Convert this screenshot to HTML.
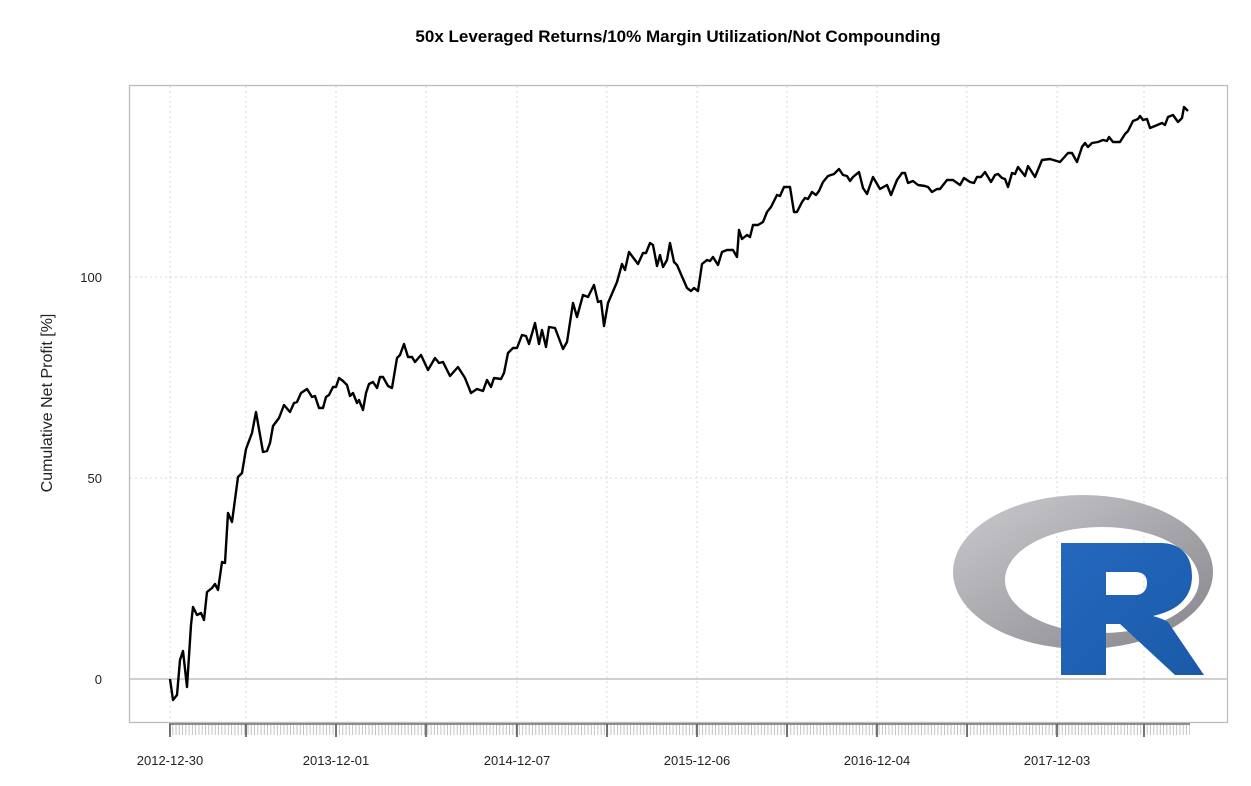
<!DOCTYPE html>
<html><head><meta charset="utf-8"><style>
html,body{margin:0;padding:0;background:#fff}
svg{display:block;font-family:"Liberation Sans",sans-serif}
</style></head><body>
<svg width="1251" height="786" viewBox="0 0 1251 786" xmlns="http://www.w3.org/2000/svg">
<defs>
<pattern id="mt" x="169" y="0" width="3.27" height="786" patternUnits="userSpaceOnUse">
<line x1="0.5" y1="0" x2="0.5" y2="786" stroke="#aaa" stroke-width="0.7"/>
</pattern>
<linearGradient id="rg" x1="0" y1="0" x2="1" y2="1">
<stop offset="0" stop-color="#cbcbcf"/><stop offset="1" stop-color="#84848a"/>
</linearGradient>
<linearGradient id="bg" x1="0" y1="0" x2="1" y2="1">
<stop offset="0" stop-color="#2468be"/><stop offset="1" stop-color="#1a5aa8"/>
</linearGradient>
</defs>
<text x="678" y="42" text-anchor="middle" font-size="17" font-weight="bold" fill="#000">50x Leveraged Returns/10% Margin Utilization/Not Compounding</text>
<g stroke="#d8d8d8" stroke-width="1" stroke-dasharray="2,3">
<line x1="170" y1="86" x2="170" y2="721"/><line x1="246" y1="86" x2="246" y2="721"/>
<line x1="336" y1="86" x2="336" y2="721"/><line x1="426" y1="86" x2="426" y2="721"/>
<line x1="517" y1="86" x2="517" y2="721"/><line x1="607" y1="86" x2="607" y2="721"/>
<line x1="697" y1="86" x2="697" y2="721"/><line x1="787" y1="86" x2="787" y2="721"/>
<line x1="877" y1="86" x2="877" y2="721"/><line x1="967" y1="86" x2="967" y2="721"/>
<line x1="1057" y1="86" x2="1057" y2="721"/><line x1="1144" y1="86" x2="1144" y2="721"/>
<line x1="130" y1="478" x2="1227" y2="478"/><line x1="130" y1="277" x2="1227" y2="277"/>
</g>
<line x1="130" y1="679" x2="1227" y2="679" stroke="#b5b5b5" stroke-width="1.3"/>
<rect x="129.5" y="85.5" width="1098" height="637" fill="none" stroke="#bdbdbd" stroke-width="1.3"/>
<path fill="url(#rg)" fill-rule="evenodd" d="M953,572 a130,77 0 1,0 260,0 a130,77 0 1,0 -260,0 Z M1005,580 a97,53 0 1,0 194,0 a97,53 0 1,0 -194,0 Z"/>
<path fill="url(#bg)" fill-rule="evenodd" d="M1061,543 L1160,543 C1185,543 1192,560 1192,576 C1192,596 1180,610 1153,616 C1160,618 1165,620 1168,622 L1204,675 L1175,675 L1120,624 L1106,624 L1106,675 L1061,675 Z M1106,572 L1135,572 C1145,572 1147,578 1147,583 C1147,590 1143,595 1135,595 L1106,595 Z"/>
<polyline fill="none" stroke="#000" stroke-width="2.4" stroke-linejoin="round" points="170,679 173,700 177,695 180,660 183,651 187,687 191,625 193,607 197,615 201,613 204,620 207,592 212,588 215,584 218,590 222,562 225,563 228,513 232,522 238,477 242,473 246,449 252,433 256,412 263,452 267,451 270,443 273,426 279,418 284,405 290,412 294,403 297,402 301,393 307,389 312,397 315,396 319,408 323,408 326,397 329,395 333,387 336,387 339,378 343,381 347,385 350,396 353,393 357,403 359,400 363,410 366,393 369,384 373,382 377,388 380,377 383,377 388,386 392,388 397,358 400,355 404,344 408,357 412,357 415,362 421,355 428,370 435,358 439,363 443,362 450,376 458,367 465,378 471,393 477,389 483,391 487,380 491,387 494,378 501,379 504,373 508,353 513,348 517,348 522,335 526,336 529,344 535,323 539,344 542,330 546,347 549,327 555,328 563,349 567,342 573,303 577,317 583,295 588,297 594,285 598,302 601,301 604,326 608,303 617,282 622,264 625,270 629,252 638,264 643,253 646,253 650,243 653,245 657,266 660,255 663,267 667,260 670,243 674,262 677,265 687,288 691,291 694,288 698,291 702,264 707,260 710,261 713,257 718,265 722,252 727,250 733,250 737,257 739,230 742,239 747,235 750,237 753,225 758,225 763,222 767,212 771,207 777,195 780,196 784,187 790,187 794,212 797,212 802,202 805,198 808,199 812,192 816,195 819,191 823,182 828,176 834,174 839,169 843,175 847,176 850,181 853,177 859,172 863,188 867,194 873,177 880,189 887,185 891,195 897,180 902,173 905,173 908,183 913,181 918,185 925,186 928,187 932,192 937,189 940,189 947,180 953,180 960,185 964,178 970,182 974,183 977,177 981,177 985,172 991,182 995,175 998,174 1002,178 1005,179 1008,187 1012,173 1015,174 1018,167 1025,176 1028,166 1035,177 1042,160 1050,159 1060,162 1068,153 1072,153 1077,162 1082,147 1085,143 1088,147 1092,143 1098,142 1103,140 1107,141 1109,137 1113,142 1120,142 1125,134 1128,131 1133,121 1138,119 1140,116 1143,120 1147,119 1150,128 1155,126 1162,123 1165,125 1168,117 1173,115 1178,122 1182,118 1184,107 1188,111"/>
<rect x="169" y="724" width="1021" height="11" fill="url(#mt)"/>
<line x1="169" y1="724" x2="1190" y2="724" stroke="#555" stroke-width="1.2"/>
<g stroke="#555" stroke-width="1.6">
<line x1="170" y1="724" x2="170" y2="737"/><line x1="246" y1="724" x2="246" y2="737"/>
<line x1="336" y1="724" x2="336" y2="737"/><line x1="426" y1="724" x2="426" y2="737"/>
<line x1="517" y1="724" x2="517" y2="737"/><line x1="607" y1="724" x2="607" y2="737"/>
<line x1="697" y1="724" x2="697" y2="737"/><line x1="787" y1="724" x2="787" y2="737"/>
<line x1="877" y1="724" x2="877" y2="737"/><line x1="967" y1="724" x2="967" y2="737"/>
<line x1="1057" y1="724" x2="1057" y2="737"/><line x1="1144" y1="724" x2="1144" y2="737"/>
</g>
<g font-size="13" fill="#222" text-anchor="middle">
<text x="170" y="765">2012-12-30</text><text x="336" y="765">2013-12-01</text>
<text x="517" y="765">2014-12-07</text><text x="697" y="765">2015-12-06</text>
<text x="877" y="765">2016-12-04</text><text x="1057" y="765">2017-12-03</text>
</g>
<g font-size="13" fill="#222" text-anchor="end">
<text x="102" y="684">0</text>
<text x="102" y="483">50</text>
<text x="102" y="282">100</text>
</g>
<text transform="translate(52,403) rotate(-90)" font-size="16" fill="#222" text-anchor="middle">Cumulative Net Profit [%]</text>
</svg>
</body></html>
